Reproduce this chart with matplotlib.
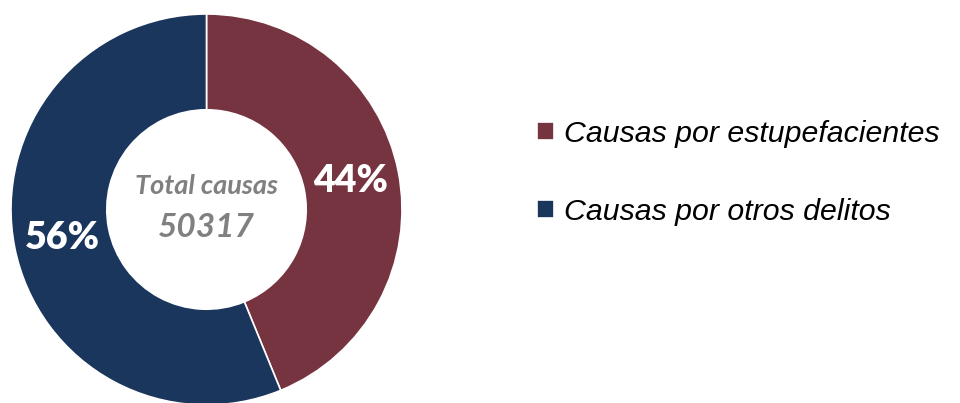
import matplotlib
matplotlib.use("Agg")
import matplotlib.pyplot as plt

# data
categorias = ["Causas por estupefacientes", "Causas por otros delitos"]
causas = [22040, 28277]
colores = ["#763440", "#1A365D"]
total = sum(causas)

fig = plt.figure(figsize=(9.6, 4.03), dpi=100)
ax = fig.add_axes([11 / 960, -2 / 403, 391 / 960, 391 / 403])

wedges, textos, pcts = ax.pie(
    causas, colors=colores, startangle=90, counterclock=False,
    radius=1, autopct="%.0f%%", pctdistance=0.75,
    wedgeprops=dict(width=0.49, edgecolor="white", linewidth=1.2),
)
for t in pcts:
    t.set_color("white")
    t.set_fontsize(27)
    t.set_fontweight("heavy")
    t.set_family("Lato")

ax.text(0, 0.12, "Total causas", ha="center", va="center", color="#808080",
        fontsize=19.5, fontweight="bold", style="italic", family="Lato")
ax.text(0, -0.09, str(total), ha="center", va="center", color="#808080",
        fontsize=24, fontweight="bold", style="italic", family="Lato")
ax.set_xlim(-1, 1)
ax.set_ylim(-1, 1)
ax.set_aspect("equal")

leg = fig.legend(wedges, categorias, loc="upper left",
                 bbox_to_anchor=(537 / 960, 1 - 120 / 403), frameon=False,
                 prop=dict(family="Liberation Sans", style="italic", size=21.8),
                 handlelength=0.55, handleheight=0.55, handletextpad=0.35,
                 labelspacing=1.65, borderpad=0, borderaxespad=0)

fig.savefig("out.png", dpi=100)
